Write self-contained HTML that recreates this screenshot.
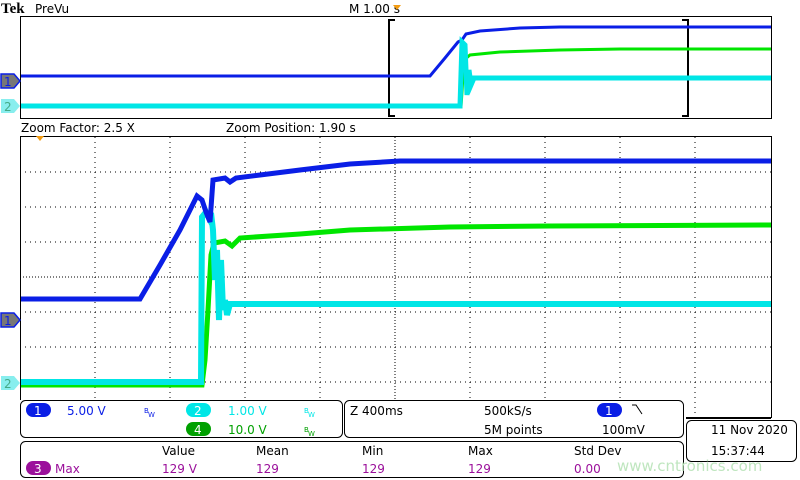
<!DOCTYPE html>
<html><head><meta charset="utf-8"><style>
body{margin:0;background:#fff;width:800px;height:480px;overflow:hidden}
svg{display:block;font-family:"DejaVu Sans","Liberation Sans",sans-serif}
</style></head><body>
<svg width="800" height="480" viewBox="0 0 800 480">
<!-- header -->
<text x="1" y="13" font-family="Liberation Serif,serif" font-weight="bold" font-size="15">Tek</text>
<text x="35" y="13" font-size="12">PreVu</text>
<text x="349" y="13" font-size="12">M 1.00 s</text>
<path d="M393 5 L401 5 L397 10Z" fill="#f39c12"/>
<!-- preview box -->
<rect x="20.5" y="16.5" width="751" height="102" fill="none" stroke="#000"/>
<path d="M395 20 H389 V116 H395 M682 20 H688 V116 H682" fill="none" stroke="#000" stroke-width="2"/>
<polyline points="21,76 430,76 445,58 458,42 462,40 466,34 480,31 520,28 560,27 771,27" fill="none" stroke="#0a1ee6" stroke-width="3"/>
<polyline points="21,107 461,107 464,60 470,55 500,52 560,50 620,49 771,49" fill="none" stroke="#00e600" stroke-width="3"/>
<polyline points="21,106 460,106 462,42 465,45 467,95 469,70 471,85 474,78 771,78" fill="none" stroke="#00e6e6" stroke-width="5"/>
<text x="21" y="132" font-size="12">Zoom Factor: 2.5 X</text>
<text x="226" y="132" font-size="12">Zoom Position: 1.90 s</text>
<!-- main graticule -->
<rect x="20.5" y="136.5" width="751" height="281" fill="none" stroke="#000"/>
<g stroke="#000" stroke-width="1" stroke-dasharray="1 4">
<path d="M95 137V417M170 137V417M245 137V417M320 137V417M470 137V417M545 137V417M620 137V417M695 137V417"/>
<path d="M20 172H771M20 207H771M20 242H771M20 312H771M20 347H771M20 382H771"/>
</g>
<g stroke="#000" stroke-width="1" stroke-dasharray="1 2">
<path d="M395 137V417M20 277H771"/>
</g>
<path d="M36 136 L44 136 L40 141Z" fill="#f39c12"/>
<!-- main traces -->
<polyline points="21,385 202,385 205,360 208,310 211,255 214,243 225,241 232,246 240,238 300,234 350,230 450,227 550,226 771,225" fill="none" stroke="#00e600" stroke-width="5"/>
<polyline points="21,382 201,382 202,217 206,212 209,218 211,213 213,230 215,280 217,250 219,320 221,260 223,310 225,300 227,315 230,304 260,304 771,304" fill="none" stroke="#00e6e6" stroke-width="6"/>
<polyline points="21,299 140,299 160,265 180,230 197,196 202,200 206,212 210,222 213,180 225,178 230,182 236,178 260,175 300,170 350,164 400,161 500,161 771,161" fill="none" stroke="#0a1ee6" stroke-width="5"/>
<!-- channel markers -->
<path d="M1 74 H14 L20 81 L14 88 H1Z" fill="#777" stroke="#0a1ee6" stroke-width="1.5"/>
<text x="4" y="86" font-size="12" fill="#0a1ee6">1</text>
<path d="M1 99 H14 L20 106 L14 113 H1Z" fill="#8ee"/>
<text x="4" y="111" font-size="12" fill="#4a8">2</text>
<path d="M1 313 H14 L20 320 L14 327 H1Z" fill="#777" stroke="#0a1ee6" stroke-width="1.5"/>
<text x="4" y="325" font-size="12" fill="#0a1ee6">1</text>
<path d="M1 376 H14 L20 383 L14 390 H1Z" fill="#8ee"/>
<text x="4" y="388" font-size="12" fill="#4a8">2</text>
<!-- bottom panels -->
<rect x="0" y="400" width="686" height="80" fill="#fff"/>
<rect x="686" y="418" width="114" height="62" fill="#fff"/>
<path d="M686 418 H771" stroke="#000" stroke-width="2"/>
<rect x="20.5" y="400.5" width="322" height="37" rx="5" fill="none" stroke="#000"/>
<rect x="344.5" y="400.5" width="339" height="37" rx="5" fill="none" stroke="#000"/>
<rect x="20.5" y="441.5" width="663" height="36" rx="5" fill="none" stroke="#000"/>
<rect x="686.5" y="420.5" width="110" height="41" rx="5" fill="none" stroke="#000"/>
<g font-size="12">
<rect x="26" y="403" width="25" height="14" rx="7" fill="#0a1ee6"/><text x="34" y="415" fill="#fff">1</text>
<text x="67" y="415" fill="#0a1ee6">5.00 V</text>
<text x="144" y="413" font-size="7" fill="#0a1ee6">B</text><text x="148" y="417" font-size="7" fill="#0a1ee6">W</text>
<rect x="186" y="403" width="25" height="14" rx="7" fill="#00e6e6"/><text x="194" y="415" fill="#fff">2</text>
<text x="228" y="415" fill="#00e6e6">1.00 V</text>
<text x="304" y="413" font-size="7" fill="#00e6e6">B</text><text x="308" y="417" font-size="7" fill="#00e6e6">W</text>
<rect x="186" y="422" width="25" height="14" rx="7" fill="#00a000"/><text x="194" y="434" fill="#fff">4</text>
<text x="228" y="434" fill="#00a000">10.0 V</text>
<text x="304" y="432" font-size="7" fill="#00a000">B</text><text x="308" y="436" font-size="7" fill="#00a000">W</text>
<text x="350" y="415">Z 400ms</text>
<text x="484" y="415">500kS/s</text>
<text x="484" y="434">5M points</text>
<rect x="597" y="403" width="25" height="14" rx="7" fill="#0a1ee6"/><text x="605" y="415" fill="#fff">1</text>
<path d="M632 405 L636 405 L642 414" fill="none" stroke="#000"/>
<text x="602" y="434">100mV</text>
<text x="162" y="455">Value</text><text x="256" y="455">Mean</text><text x="362" y="455">Min</text><text x="468" y="455">Max</text><text x="574" y="455">Std Dev</text>
<rect x="26" y="461" width="25" height="14" rx="7" fill="#9b109b"/><text x="34" y="473" fill="#fff">3</text>
<text x="55" y="473" fill="#9b109b">Max</text>
<text x="162" y="473" fill="#9b109b">129 V</text><text x="256" y="473" fill="#9b109b">129</text><text x="362" y="473" fill="#9b109b">129</text><text x="468" y="473" fill="#9b109b">129</text><text x="574" y="473" fill="#9b109b">0.00</text>
<text x="711" y="434">11 Nov 2020</text>
<text x="711" y="455">15:37:44</text>
<text x="617" y="471" font-size="15" fill="#bfe6bf">www.cntronics.com</text>
</g>
</svg>
</body></html>
